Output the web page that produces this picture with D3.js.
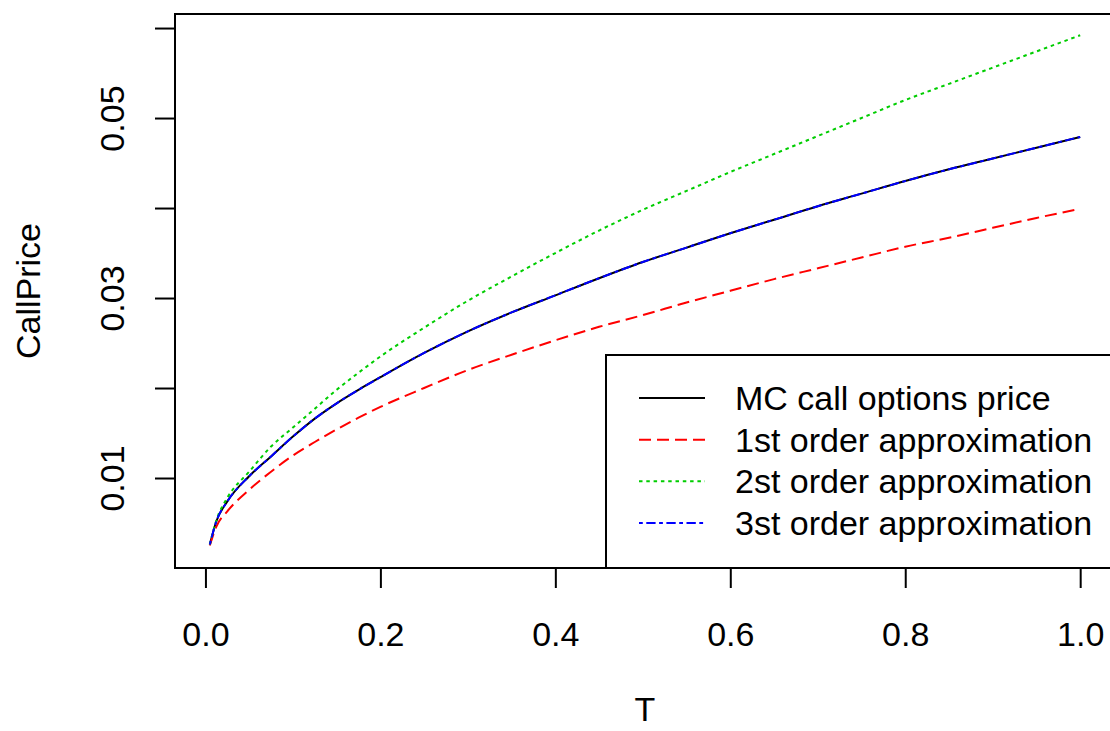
<!DOCTYPE html>
<html>
<head>
<meta charset="utf-8">
<script src="https://cdn.jsdelivr.net/npm/d3@7"></script>
<style>
  html, body { margin: 0; padding: 0; background: #fff; }
  svg { display: block; }
  text { font-family: "Liberation Sans", Arial, sans-serif; fill: #000; }
</style>
</head>
<body>
<svg id="chart" width="1110" height="731"></svg>
<script>
// ---- data ----
const T = [0.005, 0.0125, 0.025, 0.05, 0.075, 0.1, 0.125, 0.15, 0.175, 0.2,
           0.25, 0.3, 0.35, 0.4, 0.45, 0.5, 0.55, 0.6, 0.65, 0.7,
           0.75, 0.8, 0.85, 0.9, 0.95, 1.0];
const mcPrice = [0.0026, 0.0052, 0.0074, 0.0102, 0.0124, 0.0146, 0.0166, 0.0183, 0.0198, 0.0212,
                 0.0239, 0.0263, 0.0284, 0.0303, 0.0322, 0.0340, 0.0356, 0.0372, 0.0387, 0.0402,
                 0.0416, 0.0430, 0.0443, 0.0455, 0.0467, 0.0479];
const approx1 = [0.0025, 0.0046, 0.0063, 0.0087, 0.0107, 0.0125, 0.0140, 0.0154, 0.0167, 0.0179,
                 0.0200, 0.0220, 0.0237, 0.0253, 0.0268, 0.0281, 0.0295, 0.0308, 0.0321, 0.0333,
                 0.0345, 0.0357, 0.0367, 0.0378, 0.0389, 0.0399];
const approx2 = [0.0026, 0.0053, 0.0078, 0.0107, 0.0135, 0.0156, 0.0177, 0.0198, 0.0217, 0.0235,
                 0.0267, 0.0297, 0.0324, 0.0350, 0.0375, 0.0398, 0.0419, 0.0440, 0.0460, 0.0480,
                 0.0500, 0.0520, 0.0538, 0.0556, 0.0574, 0.0592];
const approx3 = [0.0026, 0.0052, 0.0074, 0.0102, 0.0124, 0.0146, 0.0166, 0.0183, 0.0198, 0.0212,
                 0.0239, 0.0263, 0.0284, 0.0303, 0.0322, 0.0340, 0.0356, 0.0372, 0.0387, 0.0402,
                 0.0416, 0.0430, 0.0443, 0.0455, 0.0467, 0.0479];
const seriesNames = ["MC call options price", "1st order approximation", "2st order approximation", "3st order approximation"];
const xTicks = [0, 0.2, 0.4, 0.6, 0.8, 1.0];
const xTickLabels = ["0.0", "0.2", "0.4", "0.6", "0.8", "1.0"];
const yTicks = [0.01, 0.02, 0.03, 0.04, 0.05, 0.06];
const yTickLabels = ["0.01", "", "0.03", "", "0.05", ""];
const xTitle = "T";
const yTitle = "CallPrice";

// ---- styles ----
const colors = ["#000000", "#ff0000", "#00cd00", "#0000ff"];
const dashes = [null, "12,6", "3.5,3.8", "3.8,3.5,9.3,3.5"];

// ---- layout ----
const svg = d3.select("#chart");
const box = { left: 175, right: 1115, top: 14, bottom: 568 };
const x = d3.scaleLinear().domain([-0.0348, 1.0398]).range([box.left, box.right]);
const y = d3.scaleLinear().domain([0, 0.06156]).range([box.bottom, box.top]);
const FS = 34;

const series = [mcPrice, approx1, approx2, approx3];

svg.append("clipPath").attr("id", "plotclip")
  .append("rect").attr("x", box.left).attr("y", box.top)
  .attr("width", box.right - box.left).attr("height", box.bottom - box.top);

const line = d3.line().x((d, i) => x(T[i])).y(d => y(d)).curve(d3.curveMonotoneX);
const gLines = svg.append("g").attr("clip-path", "url(#plotclip)");
series.forEach((s, k) => {
  gLines.append("path")
    .datum(s)
    .attr("d", line)
    .attr("fill", "none")
    .attr("stroke", colors[k])
    .attr("stroke-width", 2)
    .attr("stroke-linejoin", "round")
    .attr("stroke-dasharray", dashes[k]);
});

// frame
svg.append("rect")
  .attr("x", box.left).attr("y", box.top)
  .attr("width", box.right - box.left).attr("height", box.bottom - box.top)
  .attr("fill", "none").attr("stroke", "#000").attr("stroke-width", 2);

// x axis
const xAxis = d3.axisBottom(x).tickValues(xTicks).tickSize(20).tickPadding(30)
  .tickFormat((d, i) => xTickLabels[i]);
const gx = svg.append("g").attr("transform", `translate(0,${box.bottom})`).call(xAxis);
gx.select(".domain").remove();
gx.selectAll(".tick line").attr("stroke", "#000").attr("stroke-width", 2);
gx.selectAll(".tick text").attr("font-size", FS).attr("font-family", '"Liberation Sans", Arial, sans-serif')
  .attr("fill", "#000").attr("y", 66).attr("dy", null).attr("dominant-baseline", "central");

// y axis
const yAxis = d3.axisLeft(y).tickValues(yTicks).tickSize(20)
  .tickFormat((d, i) => yTickLabels[i]);
const gy = svg.append("g").attr("transform", `translate(${box.left},0)`).call(yAxis);
gy.select(".domain").remove();
gy.selectAll(".tick line").attr("stroke", "#000").attr("stroke-width", 2);
gy.selectAll(".tick text")
  .attr("font-size", FS).attr("font-family", '"Liberation Sans", Arial, sans-serif').attr("fill", "#000")
  .attr("x", null).attr("dy", null)
  .attr("text-anchor", "middle").attr("dominant-baseline", "central")
  .attr("transform", "translate(-63,0) rotate(-90)");

// axis titles
svg.append("text").attr("x", (box.left + box.right) / 2).attr("y", 709)
  .attr("text-anchor", "middle").attr("dominant-baseline", "central")
  .attr("font-size", FS).text(xTitle);
svg.append("text")
  .attr("transform", `translate(28,${(box.top + box.bottom) / 2}) rotate(-90)`)
  .attr("text-anchor", "middle").attr("dominant-baseline", "central")
  .attr("font-size", FS).text(yTitle);

// legend
const leg = { left: 606, top: 355 };
svg.append("rect")
  .attr("x", leg.left).attr("y", leg.top)
  .attr("width", box.right - leg.left).attr("height", box.bottom - leg.top)
  .attr("fill", "#fff").attr("stroke", "#000").attr("stroke-width", 2);
const rowY = d3.scaleLinear().domain([0, 3]).range([398, 523]);
seriesNames.forEach((name, k) => {
  svg.append("line")
    .attr("x1", 639).attr("x2", 705)
    .attr("y1", rowY(k)).attr("y2", rowY(k))
    .attr("stroke", colors[k]).attr("stroke-width", 2)
    .attr("stroke-dasharray", dashes[k]);
  svg.append("text")
    .attr("x", 735).attr("y", rowY(k))
    .attr("dominant-baseline", "central")
    .attr("font-size", FS).text(name);
});
</script>
</body>
</html>
